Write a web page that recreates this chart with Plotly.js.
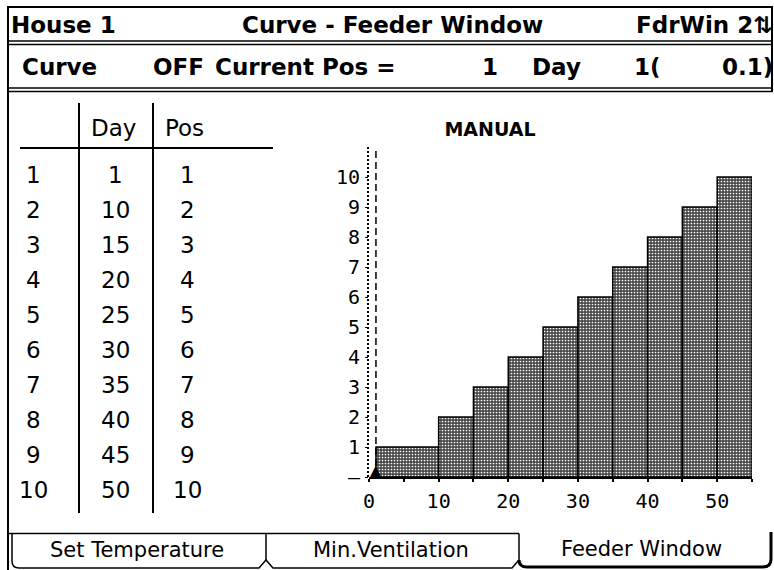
<!DOCTYPE html>
<html><head><meta charset="utf-8">
<script src="https://cdn.plot.ly/plotly-3.0.1.min.js"></script>
<style>html,body{margin:0;padding:0;background:#fff}#chart{width:774px;height:570px}</style>
</head><body><div id="chart"></div>
<script>
// ---- data ----
const rowNumbers = [1, 2, 3, 4, 5, 6, 7, 8, 9, 10];
const dayValues  = [1, 10, 15, 20, 25, 30, 35, 40, 45, 50];
const posValues  = [1, 2, 3, 4, 5, 6, 7, 8, 9, 10];
const xMax = 55;
const yMax = 11;
const currentDay = 1;
const currentPos = 1;
const currentPosValue = '0.1';
const xTickVals = [0, 10, 20, 30, 40, 50];
const xTickText = ['0', '10', '20', '30', '40', '50'];
const yTickVals = [0, 1, 2, 3, 4, 5, 6, 7, 8, 9, 10];
const yTickText = ['–', '1', '2', '3', '4', '5', '6', '7', '8', '9', '10'];
const tableHeaders = ['Day', 'Pos'];
const tabLabels = ['Set Temperature', 'Min.Ventilation', 'Feeder Window'];
const headerLeft = 'House 1';
const headerCenter = 'Curve - Feeder Window';
const headerRight = 'FdrWin 2⇅';
const chartTitle = 'MANUAL';
const curveState = 'OFF';

// ---- layout geometry ----
const W = 774, H = 570;
const plot = {l: 369, r: 752, t: 147, b: 477};
const xpx = v => plot.l + v / xMax * (plot.r - plot.l);
const ypx = v => plot.b - v / yMax * (plot.b - plot.t);

const widths = dayValues.map((d, i) => (i < dayValues.length - 1 ? dayValues[i + 1] : xMax) - d);

const bold = {family: 'DejaVu Sans', size: 23, color: '#000', weight: 700};
const reg = {family: 'DejaVu Sans', size: 23, color: '#000'};
const tabFont = {family: 'DejaVu Sans', size: 21, color: '#000'};
const mono = {family: 'DejaVu Sans Mono', size: 20, color: '#000'};

function txt(text, x, y, font, xanchor) {
  return {text: String(text), x: x, y: y, xref: 'x2', yref: 'y2', showarrow: false,
          xanchor: xanchor || 'center', yanchor: 'middle', font: font, borderpad: 0};
}
function ln(x0, y0, x1, y1, w, dash) {
  return {type: 'line', xref: 'x2', yref: 'y2', x0: x0, y0: y0, x1: x1, y1: y1,
          line: {color: '#000', width: w || 1.5, dash: dash || 'solid'}, layer: 'above'};
}
function path(p, w) {
  return {type: 'path', xref: 'x2', yref: 'y2', path: p,
          line: {color: '#000', width: w || 1.5}, layer: 'above'};
}

const annotations = [];
const shapes = [];

// header
annotations.push(txt(headerLeft, 10, 25, bold, 'left'));
annotations.push(txt(headerCenter, 544, 25, bold, 'right'));
annotations.push(txt(headerRight, 773, 25, bold, 'right'));
annotations.push(txt('Curve', 21, 67, bold, 'left'));
annotations.push(txt(curveState, 205, 67, bold, 'right'));
annotations.push(txt('Current Pos =', 397, 67, bold, 'right'));
annotations.push(txt(currentPos, 499, 67, bold, 'right'));
annotations.push(txt('Day', 531, 67, bold, 'left'));
annotations.push(txt(currentDay + '(', 662, 67, bold, 'right'));
annotations.push(txt(currentPosValue + ')', 774, 67, bold, 'right'));

// frame
shapes.push(ln(7, 7, 773, 7, 2));
shapes.push(ln(8, 7, 8, 570, 2));
shapes.push(ln(772, 7, 772, 92, 2));
shapes.push(ln(7, 41, 773, 41, 1.5));
shapes.push(ln(7, 44.5, 773, 44.5, 1.5));
shapes.push(ln(7, 88, 773, 88, 1.5));
shapes.push(ln(7, 91.5, 773, 91.5, 1.5));

// table
const colX = [33, 115, 187];
annotations.push(txt(tableHeaders[0], 113, 128, reg));
annotations.push(txt(tableHeaders[1], 184, 128, reg));
rowNumbers.forEach((r, i) => {
  const y = 175 + i * 35;
  annotations.push(txt(r, colX[0], y, reg));
  annotations.push(txt(dayValues[i], colX[1], y, reg));
  annotations.push(txt(posValues[i], colX[2], y, reg));
});
shapes.push(ln(79, 103, 79, 513, 2));
shapes.push(ln(153, 103, 153, 513, 2));
shapes.push(ln(20, 148, 273, 148, 2));

// chart axis decorations
shapes.push(ln(xpx(0) - 1, ypx(0), xpx(0) - 1, ypx(yMax), 2, '2px,2px'));
shapes.push({type: 'line', xref: 'x', yref: 'y', x0: currentDay, x1: currentDay, y0: 0, y1: yMax - 0.1,
             line: {color: '#000', width: 1.5, dash: '7px,4px'}, layer: 'above'});
annotations.push({text: '▲', x: currentDay, y: 0, xref: 'x', yref: 'y', showarrow: false,
                  xanchor: 'center', yanchor: 'bottom', yshift: -5, borderpad: 0,
                  font: {family: 'DejaVu Sans', size: 17, color: '#000'}});

// tabs
shapes.push(ln(8, 533.5, 519, 533.5, 1.5));
shapes.push(path('M12,534 L12,561 Q12,568 19,568 L259,568 L266,560 L273,568 L512,568 L519,560', 1.5));
shapes.push(ln(266, 533.5, 266, 560, 1.5));
shapes.push(ln(519, 533.5, 519, 560, 1.5));
shapes.push(path('M519,560 Q519,567 527,567 L763,567 Q771,567 771,559 L771,532', 3));
annotations.push(txt(tabLabels[0], 137, 550, tabFont));
annotations.push(txt(tabLabels[1], 391, 550, tabFont));
annotations.push(txt(tabLabels[2], 641, 549, tabFont));

const traces = [
  {type: 'bar', x: dayValues, y: posValues, width: widths, offset: 0,
   marker: {color: '#555',
            pattern: {shape: '.', fgcolor: '#ffffff', bgcolor: '#4a4a4a', size: 3, solidity: 0.25, fillmode: 'replace'},
            line: {color: '#000', width: 1.5}},
   hoverinfo: 'skip', showlegend: false},
  {type: 'scatter', x: [], y: [], xaxis: 'x2', yaxis: 'y2', hoverinfo: 'skip', showlegend: false}
];

const layout = {
  width: W, height: H, margin: {l: 0, r: 0, t: 0, b: 0},
  paper_bgcolor: '#fff', plot_bgcolor: 'rgba(0,0,0,0)', showlegend: false, bargap: 0,
  title: {text: chartTitle, x: 490 / W, y: 1 - 129 / H, xref: 'container', yref: 'container',
          xanchor: 'center', yanchor: 'middle',
          font: {family: 'DejaVu Sans', size: 19, color: '#000', weight: 700}},
  xaxis: {domain: [plot.l / W, plot.r / W], range: [0, xMax], tickmode: 'array',
          tickvals: xTickVals, ticktext: xTickText, ticks: 'outside', ticklen: 3, tickwidth: 2, tickcolor: '#000',
          minor: {tickmode: 'linear', tick0: 0, dtick: 5, ticks: 'outside', ticklen: 3, tickwidth: 2, tickcolor: '#000', showgrid: false},
          showgrid: false, zeroline: false, showline: true, linecolor: '#000', linewidth: 1.5,
          tickfont: mono, ticklabelstandoff: 2, fixedrange: true, anchor: 'y'},
  yaxis: {domain: [1 - plot.b / H, 1 - plot.t / H], range: [0, yMax], tickmode: 'array',
          tickvals: yTickVals, ticktext: yTickText, ticks: 'outside', ticklen: 3, tickwidth: 1, tickcolor: '#000',
          showgrid: false, zeroline: false, showline: false, tickfont: mono, ticklabelstandoff: 1,
          fixedrange: true, anchor: 'x'},
  xaxis2: {domain: [0, 1], range: [0, W], visible: false, anchor: 'y2', fixedrange: true},
  yaxis2: {domain: [0, 1], range: [H, 0], visible: false, anchor: 'x2', fixedrange: true},
  shapes: shapes, annotations: annotations
};

Plotly.newPlot('chart', traces, layout, {displayModeBar: false, staticPlot: true});
</script></body></html>
